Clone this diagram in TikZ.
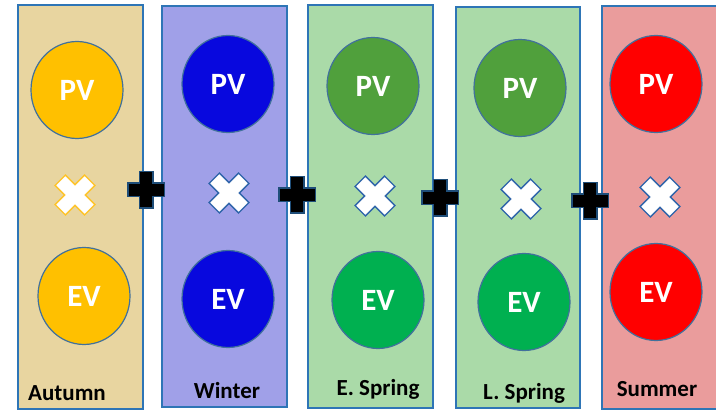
\documentclass[tikz,border=0pt]{standalone}
\usepackage{fontspec}
\setmainfont{Carlito}
\usetikzlibrary{shapes.geometric}
\definecolor{autumnbg}{RGB}{232,213,160}
\definecolor{autumndisc}{RGB}{255,192,0}
\definecolor{winterbg}{RGB}{160,160,232}
\definecolor{winterdisc}{RGB}{8,8,222}
\definecolor{springbg}{RGB}{170,218,168}
\definecolor{pvgreen}{RGB}{80,160,60}
\definecolor{evgreen}{RGB}{0,176,80}
\definecolor{summerbg}{RGB}{234,156,156}
\definecolor{summerdisc}{RGB}{255,0,0}
\definecolor{panelline}{RGB}{46,117,182}
\definecolor{discline}{RGB}{65,113,156}
\definecolor{xgold}{RGB}{255,196,40}
\definecolor{xblue}{RGB}{46,100,170}
\definecolor{plusline}{RGB}{31,78,121}
\tikzset{
  season/.style={draw=panelline, line width=1.3pt},
  disc/.style={ellipse, draw=discline, line width=1.2pt, minimum width=92pt,
    minimum height=97pt, inner sep=0pt, text=white,
    font=\fontsize{31}{31}\selectfont\bfseries},
  seasonlabel/.style={font=\fontsize{23}{23}\selectfont\bfseries},
  pics/timessign/.style={code={
    \draw[#1, line width=16pt, rotate=45] (-21.5,0)--(21.5,0) (0,-21.5)--(0,21.5);
    \draw[white, line width=13pt, rotate=45] (-20,0)--(20,0) (0,-20)--(0,20);
  }},
  pics/plussign/.style={code={
    \draw[plusline, line width=15pt] (-19,0)--(19,0) (0,-19)--(0,19);
    \draw[black, line width=12pt] (-17.5,0)--(17.5,0) (0,-17.5)--(0,17.5);
  }}
}
\begin{document}
\begin{tikzpicture}[x=1pt,y=-1pt]
\useasboundingbox (0,0) rectangle (716,411);
% Autumn
\draw[season, fill=autumnbg] (18,5) rectangle (143,409);
\node[disc, fill=autumndisc] (pvautumn) at (77,90) {PV};
\pic (xautumn) at (75,195) {timessign=xgold};
\node[disc, fill=autumndisc] (evautumn) at (84,296) {EV};
\node[seasonlabel] (lautumn) at (67,393) {Autumn};
% Winter
\draw[season, fill=winterbg] (162,6) rectangle (287,407);
\node[disc, fill=winterdisc] (pvwinter) at (228,84) {PV};
\pic (xwinter) at (229,193) {timessign=xblue};
\node[disc, fill=winterdisc] (evwinter) at (228,299) {EV};
\node[seasonlabel] (lwinter) at (227,391) {Winter};
% early spring
\draw[season, fill=springbg] (308,5) rectangle (433,408);
\node[disc, fill=pvgreen] (pvespring) at (373,86) {PV};
\pic (xespring) at (375,196) {timessign=xblue};
\node[disc, fill=evgreen] (evespring) at (378,300) {EV};
\node[seasonlabel] (lespring) at (378,389) {E. Spring};
% late spring
\draw[season, fill=springbg] (456,7) rectangle (580,408);
\node[disc, fill=pvgreen] (pvlspring) at (520,88) {PV};
\pic (xlspring) at (521,199) {timessign=xblue};
\node[disc, fill=evgreen] (evlspring) at (524,302) {EV};
\node[seasonlabel] (llspring) at (524,393) {L. Spring};
% Summer
\draw[season, fill=summerbg] (602,6) rectangle (720,409);
\node[disc, fill=summerdisc] (pvsummer) at (656,84) {PV};
\pic (xsummer) at (660,197) {timessign=xblue};
\node[disc, fill=summerdisc] (evsummer) at (656,292) {EV};
\node[seasonlabel] (lsummer) at (657,389) {Summer};
% sums
\pic (plusa) at (146,190) {plussign};
\pic (plusb) at (297,195) {plussign};
\pic (plusc) at (440,198) {plussign};
\pic (plusd) at (590,201) {plussign};
\end{tikzpicture}
\end{document}
